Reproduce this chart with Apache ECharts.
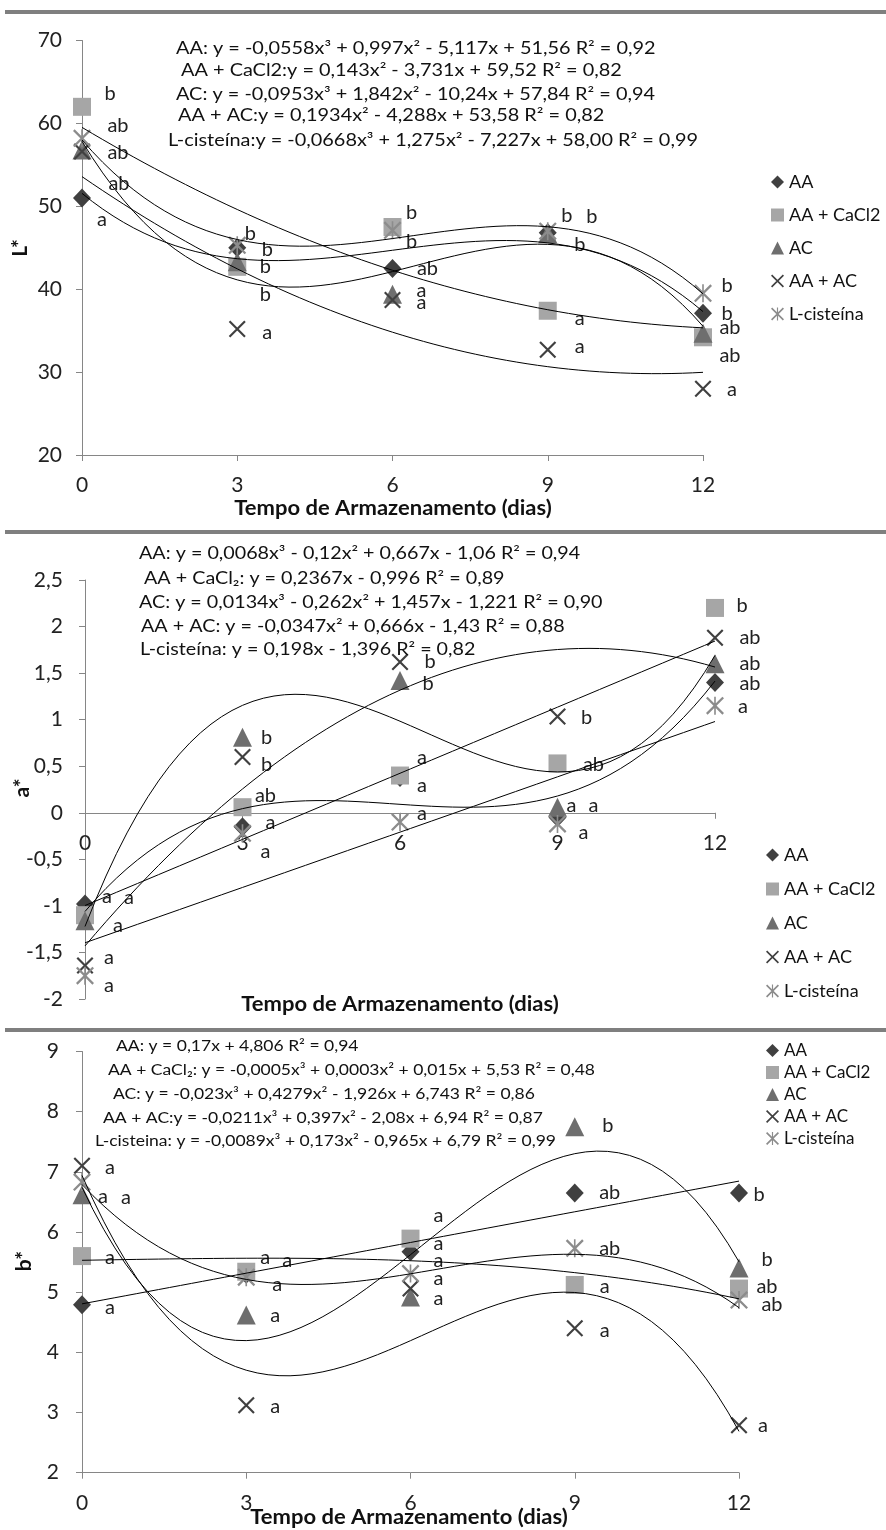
<!DOCTYPE html>
<html>
<head>
<meta charset="utf-8">
<script src="https://cdn.jsdelivr.net/npm/echarts/dist/echarts.min.js"></script>
<style>
    html, body { margin: 0; padding: 0; background: #fff; }
    #chart { width: 886px; height: 1530px; }
</style>
</head>
<body>
<div id="chart"></div>
<script>
const days = [0, 3, 6, 9, 12]
const treatments = ['AA', 'AA + CaCl2', 'AC', 'AA + AC', 'L-cisteína']

// L*
const lValues = [
    [51.0, 45.0, 42.5, 46.8, 37.1],
    [62.0, 42.7, 47.5, 37.4, 34.2],
    [56.8, 43.3, 39.4, 46.7, 34.7],
    [56.6, 35.2, 38.7, 32.7, 28.0],
    [58.2, 45.3, 47.1, 47.0, 39.5],
]
const lLetters = [
    ['a', 'b', 'ab', 'b', 'b'],
    ['b', 'b', 'b', 'a', 'ab'],
    ['ab', 'b', 'a', 'b', 'ab'],
    ['ab', 'a', 'a', 'a', 'a'],
    ['ab', 'b', 'b', 'b', 'b'],
]
// coeficientes x³, x², x, termo independente
const lCoefs = [
    [-0.0558, 0.997, -5.117, 51.56],
    [0, 0.143, -3.731, 59.52],
    [-0.0953, 1.842, -10.24, 57.84],
    [0, 0.1934, -4.288, 53.58],
    [-0.0668, 1.275, -7.227, 58.00],
]
const lEquations = [
    'AA: y = -0,0558x³ + 0,997x² - 5,117x + 51,56 R² = 0,92',
    'AA + CaCl2:y = 0,143x² - 3,731x + 59,52 R² = 0,82',
    'AC: y = -0,0953x³ + 1,842x² - 10,24x + 57,84 R² = 0,94',
    'AA + AC:y = 0,1934x² - 4,288x + 53,58 R² = 0,82',
    'L-cisteína:y = -0,0668x³ + 1,275x² - 7,227x + 58,00 R² = 0,99',
]
const lAxis = [20, 70, 10]

// a*
const aValues = [
    [-0.98, -0.15, 0.38, -0.05, 1.40],
    [-1.10, 0.06, 0.40, 0.53, 2.20],
    [-1.16, 0.81, 1.42, 0.06, 1.60],
    [-1.64, 0.60, 1.62, 1.035, 1.88],
    [-1.75, -0.22, -0.10, -0.12, 1.15],
]
const aLetters = [
    ['a', 'a', 'a', 'a', 'ab'],
    ['a', 'ab', 'a', 'ab', 'b'],
    ['a', 'b', 'b', 'a', 'ab'],
    ['a', 'b', 'b', 'b', 'ab'],
    ['a', 'a', 'a', 'a', 'a'],
]
const aCoefs = [
    [0.0068, -0.12, 0.667, -1.06],
    [0, 0, 0.2367, -0.996],
    [0.0134, -0.262, 1.457, -1.221],
    [0, -0.0347, 0.666, -1.43],
    [0, 0, 0.198, -1.396],
]
const aEquations = [
    'AA: y = 0,0068x³ - 0,12x² + 0,667x - 1,06 R² = 0,94',
    'AA + CaCl₂: y = 0,2367x - 0,996 R² = 0,89',
    'AC: y = 0,0134x³ - 0,262x² + 1,457x - 1,221 R² = 0,90',
    'AA + AC: y = -0,0347x² + 0,666x - 1,43 R² = 0,88',
    'L-cisteína: y = 0,198x - 1,396 R² = 0,82',
]
const aAxis = [-2, 2.5, 0.5]

// b*
const bValues = [
    [4.79, 5.30, 5.67, 6.65, 6.65],
    [5.60, 5.34, 5.89, 5.12, 5.06],
    [6.62, 4.62, 4.92, 7.75, 5.40],
    [7.10, 3.12, 5.06, 4.40, 2.79],
    [6.83, 5.25, 5.31, 5.73, 4.87],
]
const bLetters = [
    ['a', 'a', 'a', 'ab', 'b'],
    ['a', 'a', 'a', 'a', 'ab'],
    ['a', 'a', 'a', 'b', 'b'],
    ['a', 'a', 'a', 'a', 'a'],
    ['a', 'a', 'a', 'ab', 'ab'],
]
const bCoefs = [
    [0, 0, 0.17, 4.806],
    [-0.0005, 0.0003, 0.015, 5.53],
    [-0.023, 0.4279, -1.926, 6.743],
    [-0.0211, 0.397, -2.08, 6.94],
    [-0.0089, 0.173, -0.965, 6.79],
]
const bEquations = [
    'AA: y = 0,17x + 4,806 R² = 0,94',
    'AA + CaCl₂: y = -0,0005x³ + 0,0003x² + 0,015x + 5,53 R² = 0,48',
    'AC: y = -0,023x³ + 0,4279x² - 1,926x + 6,743 R² = 0,86',
    'AA + AC:y = -0,0211x³ + 0,397x² - 2,08x + 6,94 R² = 0,87',
    'L-cisteina: y = -0,0089x³ + 0,173x² - 0,965x + 6,79 R² = 0,99',
]
const bAxis = [2, 9, 1]

// ---- layout / estilo ----
const FONT = 'Lato, "Noto Sans", sans-serif'
const xPath = 'path://M0,0.09L0.09,0L1,0.91L0.91,1Z M0.91,0L1,0.09L0.09,1L0,0.91Z'
const starPath = xPath + ' M0.455,0L0.545,0L0.545,1L0.455,1Z'
const symbols = ['diamond', 'rect', 'triangle', xPath, starPath]
const colors = ['#404040', '#a6a6a6', '#6e6e6e', '#404040', '#8c8c8c']
const symbolSizes = [[18, 19], 18, 19, 17, 18]

// deslocamento das letras (px) em relação ao marcador
const lOffsets = [
    [[20, 22], [30, 2], [35, 0], [19, -17], [24, 0]],
    [[28, -13], [28, 28], [19, -14], [32, 8], [27, 18]],
    [[36, 3], [28, 5], [29, -4], [32, 11], [27, -6]],
    [[37, 32], [30, 4], [29, 3], [32, -3], [29, 1]],
    [[36, -13], [13, -12], [19, 11], [44, -15], [24, -8]],
]
const aOffsets = [
    [[22, -7], [28, -4], [22, 8], [36, -12], [35, 1]],
    [[44, -18], [23, -12], [22, -18], [36, 1], [27, -2]],
    [[33, 5], [24, 0], [28, 3], [14, -2], [35, 0]],
    [[24, -8], [24, 8], [30, 0], [29, 1], [35, 0]],
    [[24, 10], [23, 18], [22, -9], [26, 9], [28, 1]],
]
const bOffsets = [
    [[28, 3], [41, -14], [28, -8], [35, 0], [20, 2]],
    [[28, 1], [19, -14], [28, -23], [30, 2], [28, -2]],
    [[21, 2], [29, 0], [28, 2], [33, -1], [28, -9]],
    [[28, 2], [29, 1], [28, -10], [30, 2], [24, 0]],
    [[44, 15], [31, 7], [28, -13], [35, 0], [33, 5]],
]

const panels = [
    {
        values: lValues, letters: lLetters, coefs: lCoefs, offsets: lOffsets, axis: lAxis,
        equations: lEquations, eqFont: 17, eqScale: 1.17,
        eqPos: [[176, 49], [181, 71], [176, 95], [178, 116], [168, 141]],
        grid: { left: 82, right: 183, top: 40.5, height: 414.5 },
        labelMargin: 20,
        legend: { left: 766, top: 168, itemGap: 15, fontSize: 18 },
        yName: 'L*', yNamePos: [20, 248], xNamePos: [393, 509],
    },
    {
        values: aValues, letters: aLetters, coefs: aCoefs, offsets: aOffsets, axis: aAxis,
        equations: aEquations, eqFont: 17, eqScale: 1.16,
        eqPos: [[139, 554], [144, 579], [139, 603], [141, 627], [140, 650]],
        grid: { left: 85, right: 171, top: 580, height: 419 },
        labelMargin: 22,
        legend: { left: 761, top: 841, itemGap: 16, fontSize: 18 },
        yName: 'a*', yNamePos: [22, 788], xNamePos: [400, 1005],
    },
    {
        values: bValues, letters: bLetters, coefs: bCoefs, offsets: bOffsets, axis: bAxis,
        equations: bEquations, eqFont: 15.5, eqScale: 1.13,
        eqPos: [[116, 1046], [108, 1070], [113, 1094], [103, 1118], [95, 1141]],
        grid: { left: 82, right: 147, top: 1051.5, height: 421.2 },
        labelMargin: 23,
        legend: { left: 761, top: 1037, itemGap: 5, fontSize: 17 },
        yName: 'b*', yNamePos: [24, 1261], xNamePos: [409, 1518],
    },
]

function trendPoints(c) {
    const pts = []
    for (let k = 0; k <= 60; k++) {
        const x = k * 0.2
        pts.push([x, ((c[0] * x + c[1]) * x + c[2]) * x + c[3]])
    }
    return pts
}

function commaFmt(v) {
    return String(v).replace('.', ',')
}

function draw() {
    const chart = echarts.init(document.getElementById('chart'))
    chart.setOption(getOptions())
}

function getOptions() {
    const grids = []
    const xAxes = []
    const yAxes = []
    const legends = []
    const series = []
    const graphics = []

    const axisLine = { lineStyle: { color: '#868686', width: 1 } }
    const axisTick = { length: 6, lineStyle: { color: '#868686' } }

    panels.forEach((p, pi) => {
        grids.push(p.grid)
        // eixo x cruza o eixo y no zero quando o zero está dentro da escala
        const zeroShift = p.axis[0] < 0 ? -p.grid.height * (0 - p.axis[0]) / (p.axis[1] - p.axis[0]) : 0
        xAxes.push({
            gridIndex: pi, type: 'value', min: 0, max: 12, interval: 3,
            splitLine: { show: false },
            axisLine: { onZero: false, ...axisLine }, axisTick,
            offset: zeroShift,
            axisLabel: { fontSize: 21, color: '#222', fontFamily: FONT, margin: 20 },
        })
        yAxes.push({
            gridIndex: pi, type: 'value', min: p.axis[0], max: p.axis[1], interval: p.axis[2],
            splitLine: { show: false }, axisLine: { show: true, ...axisLine }, axisTick: { show: true, ...axisTick },
            axisLabel: { fontSize: 21, color: '#222', fontFamily: FONT, margin: p.labelMargin, formatter: commaFmt },
        })
        legends.push({
            data: treatments,
            orient: 'vertical',
            left: p.legend.left,
            top: p.legend.top,
            itemWidth: 13,
            itemHeight: 13,
            itemGap: p.legend.itemGap,
            selectedMode: false,
            textStyle: { fontSize: p.legend.fontSize, color: '#111', fontFamily: FONT },
        })

        treatments.forEach((name, i) => {
            // linha de tendência
            series.push({
                name: name + ' tendência',
                type: 'line',
                xAxisIndex: pi,
                yAxisIndex: pi,
                showSymbol: false,
                silent: true,
                smooth: false,
                lineStyle: { color: '#000', width: 1 },
                z: 3,
                data: trendPoints(p.coefs[i]),
            })
            // pontos + letras
            series.push({
                name,
                type: 'scatter',
                xAxisIndex: pi,
                yAxisIndex: pi,
                symbol: symbols[i],
                symbolSize: symbolSizes[i],
                itemStyle: { color: colors[i], opacity: 1 },
                z: 2,
                label: {
                    show: true,
                    position: 'inside',
                    align: 'center',
                    verticalAlign: 'middle',
                    color: '#222',
                    fontSize: 20,
                    fontFamily: FONT,
                },
                data: days.map((d, j) => ({
                    value: [d, p.values[i][j]],
                    label: { formatter: p.letters[i][j], offset: p.offsets[i][j] },
                })),
            })
        })

        p.equations.forEach((t, k) => {
            graphics.push({
                type: 'text', x: p.eqPos[k][0], y: p.eqPos[k][1], scaleX: p.eqScale, z: 10,
                style: { text: t, font: p.eqFont + 'px ' + FONT, fill: '#111', textVerticalAlign: 'middle' },
            })
        })
        graphics.push({
            type: 'text', x: p.xNamePos[0], y: p.xNamePos[1], scaleX: 1.1, z: 10,
            style: {
                text: 'Tempo de Armazenamento (dias)', font: 'bold 20px ' + FONT, fill: '#111',
                textAlign: 'center', textVerticalAlign: 'middle',
            },
        })
        graphics.push({
            type: 'text', x: p.yNamePos[0], y: p.yNamePos[1], rotation: Math.PI / 2, z: 10,
            style: {
                text: p.yName, font: 'bold 21px ' + FONT, fill: '#111',
                textAlign: 'center', textVerticalAlign: 'middle',
            },
        })
    })

    // linhas cinzas de separação
    ;[10, 530, 1028].forEach(y => {
        graphics.push({
            type: 'rect', shape: { x: 5, y, width: 881, height: 4 },
            style: { fill: '#7f7f7f' }, z: 10,
        })
    })

    return {
        backgroundColor: '#fff',
        animation: false,
        grid: grids,
        xAxis: xAxes,
        yAxis: yAxes,
        legend: legends,
        series,
        graphic: graphics,
    }
}

draw()
</script>
</body>
</html>
